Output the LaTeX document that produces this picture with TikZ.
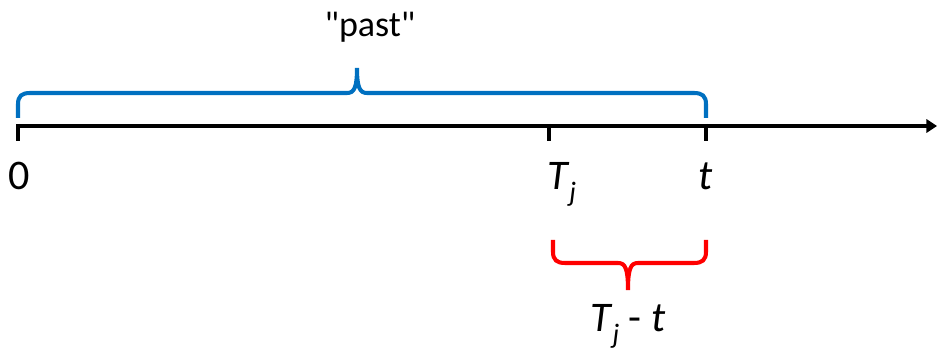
\documentclass[tikz,border=0pt]{standalone}
\usepackage{fontspec}
\setmainfont{Carlito}[Ligatures=TeXOff]
\definecolor{PastBlue}{HTML}{0070C0}
\definecolor{GapRed}{HTML}{FF0000}
\usetikzlibrary{arrows.meta}
\tikzset{
  axisline/.style={line width=2.3pt, -{Triangle[length=6pt, width=7.5pt]}},
  tickmark/.style={line width=2.3pt},
  ticklabel/.style={anchor=base, font=\fontsize{24}{28}\selectfont},
  pastbrace/.style={draw=PastBlue, line width=2.3pt},
  gapbrace/.style={draw=GapRed, line width=2.3pt}
}
\newcommand{\subj}{\raisebox{-0.28em}{\fontsize{16}{18}\selectfont\itshape j}}

\begin{document}
\begin{tikzpicture}[x=0.02cm, y=-0.02cm]
\useasboundingbox (0,0) rectangle (938,354);
% axis and ticks
\coordinate (start) at (18,126);
\coordinate (end) at (937,126);
\coordinate (t0) at (18,124);
\coordinate (tj) at (549,124);
\coordinate (tt) at (706,124);
\draw[axisline] (start) -- (end);
\foreach \p in {t0,tj,tt}
  \draw[tickmark] (\p) -- ++(0,17);

\node[ticklabel] (zero) at (19,190) {0};
\node[ticklabel, anchor=base west] (Tj) at (541,190) {\textit{T}\subj};
\node[ticklabel] (now) at (706,190) {\textit{t}};

% "past" brace
\draw[pastbrace] (18,118) -- (18,104) .. controls (18,96) and (22,93) .. (30,93)
  -- (347,93) .. controls (354,93) and (357,88) .. (357,68)
  .. controls (357,88) and (360,93) .. (367,93)
  -- (694,93) .. controls (702,93) and (706,96) .. (706,104) -- (706,118);
\node[ticklabel, font=\fontsize{20.5}{24}\selectfont] (past) at (370,37) {"past"};

% gap brace
\draw[gapbrace] (553,240) -- (553,252) .. controls (553,260) and (557,263) .. (565,263)
  -- (618,263) .. controls (625,263) and (628,268) .. (628,290)
  .. controls (628,268) and (631,263) .. (638,263)
  -- (694,263) .. controls (702,263) and (706,260) .. (706,252) -- (706,240);
\node[ticklabel] (gap) at (628,332) {\textit{T}\subj\ - \textit{t}};
\end{tikzpicture}
\end{document}
